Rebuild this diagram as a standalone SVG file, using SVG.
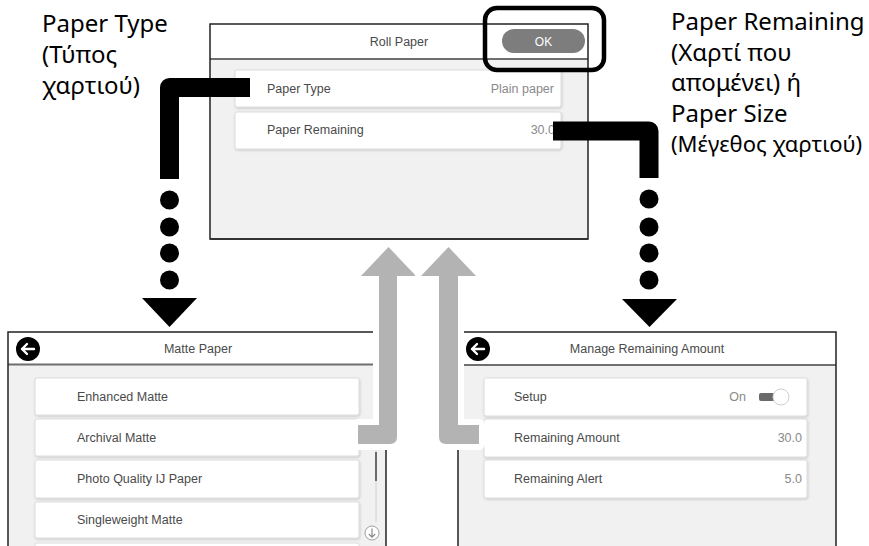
<svg xmlns="http://www.w3.org/2000/svg" width="869" height="546" viewBox="0 0 869 546">
<style>
.lbl{font-family:"Noto Sans","Open Sans",sans-serif;font-size:24px;fill:#000}
.ui{font-family:"Liberation Sans",Arial,sans-serif;font-size:12.5px;fill:#4a4a4a}
.val{font-family:"Liberation Sans",Arial,sans-serif;font-size:12.5px;fill:#8a8a8a;text-anchor:end}
.ttl{font-family:"Liberation Sans",Arial,sans-serif;font-size:12.5px;fill:#4a4a4a;text-anchor:middle}
.hdr{fill:#fff}
.body{fill:#f1f1f1}
.hline{stroke:#6e6e6e;stroke-width:2}
.card{fill:#fff;stroke:#dcdcdc;stroke-width:1}
.frame{fill:none;stroke:#222;stroke-width:1.5}
.blk{fill:none;stroke:#000;stroke-width:19;stroke-linejoin:round}
.dot{fill:#000}
.gray{fill:#b3b3b3;stroke:#fff;stroke-width:12;stroke-linejoin:round;paint-order:stroke}
.back{fill:#000}
.backarrow{fill:none;stroke:#fff;stroke-width:2.4;stroke-linecap:round;stroke-linejoin:round}
</style>
<defs>
<filter id="sh" x="-5%" y="-20%" width="110%" height="150%">
<feDropShadow dx="0.6" dy="1" stdDeviation="0.8" flood-color="#000" flood-opacity="0.18"/>
</filter>
</defs>
<rect width="869" height="546" fill="#fff"/>

<g id="label-paper-type">
<text class="lbl" x="42" y="32">Paper Type</text>
<text class="lbl" x="42" y="63">(Τύπος</text>
<text class="lbl" x="42" y="94">χαρτιού)</text>
</g>

<g id="label-paper-remaining">
<text class="lbl" x="671" y="30">Paper Remaining</text>
<text class="lbl" x="671" y="61">(Χαρτί που</text>
<text class="lbl" x="671" y="91">απομένει) ή</text>
<text class="lbl" x="671" y="122">Paper Size</text>
<text class="lbl" x="671" y="152" font-size="22" style="font-size:22px">(Μέγεθος χαρτιού)</text>
</g>

<g id="screen-roll-paper">
<rect class="hdr" x="210" y="24" width="378" height="35"/>
<rect class="body" x="210" y="59" width="378" height="180"/>
<line class="hline" x1="210" y1="59" x2="588" y2="59"/>
<text class="ttl" x="399" y="46">Roll Paper</text>
<rect x="502" y="29" width="83" height="24" rx="12" fill="#7d7d7d"/>
<text x="543.5" y="45.5" font-family="Liberation Sans,Arial,sans-serif" font-size="12" fill="#fff" text-anchor="middle">OK</text>
<rect class="card" x="235" y="70" width="326" height="37" rx="2" filter="url(#sh)"/>
<text class="ui" x="267" y="93">Paper Type</text>
<text class="val" x="554" y="93">Plain paper</text>
<rect class="card" x="235" y="112" width="326" height="37" rx="2" filter="url(#sh)"/>
<text class="ui" x="267" y="134">Paper Remaining</text>
<text class="val" x="555" y="134">30.0</text>
<rect class="frame" x="210" y="24" width="378" height="215"/>
<line x1="210" y1="239" x2="588" y2="239" stroke="#333" stroke-width="2"/>
<rect id="ok-highlight" x="485" y="8" width="119" height="62" rx="12" fill="none" stroke="#000" stroke-width="4.5"/>
</g>

<g id="screen-matte-paper">
<rect class="hdr" x="8" y="332" width="378" height="32"/>
<rect class="body" x="8" y="364" width="378" height="182"/>
<line class="hline" x1="8" y1="364.5" x2="386" y2="364.5"/>
<circle class="back" cx="28" cy="349" r="12"/>
<path class="backarrow" d="M34 349H22M27 344L22 349L27 354"/>
<text class="ttl" x="198" y="353">Matte Paper</text>
<rect class="card" x="35" y="378" width="324" height="37" rx="2" filter="url(#sh)"/>
<text class="ui" x="77" y="401">Enhanced Matte</text>
<rect class="card" x="35" y="419" width="324" height="37" rx="2" filter="url(#sh)"/>
<text class="ui" x="77" y="442">Archival Matte</text>
<rect class="card" x="35" y="460" width="324" height="38" rx="2" filter="url(#sh)"/>
<text class="ui" x="77" y="483">Photo Quality IJ Paper</text>
<rect class="card" x="35" y="502" width="324" height="36" rx="2" filter="url(#sh)"/>
<text class="ui" x="77" y="524">Singleweight Matte</text>
<rect class="card" x="35" y="543" width="324" height="10" rx="2"/>
<line x1="376" y1="450" x2="376" y2="522" stroke="#d0d0d0" stroke-width="1"/>
<line x1="376" y1="452" x2="376" y2="481" stroke="#6a6a6a" stroke-width="2"/>
<circle cx="372" cy="533" r="7" fill="#fff" stroke="#a0a0a0" stroke-width="1"/>
<path d="M372 528.5V537M368.8 534L372 537.2L375.2 534" fill="none" stroke="#888" stroke-width="1.2"/>
<path class="frame" d="M8 546V332H386V546"/>
</g>

<g id="screen-manage-remaining">
<rect class="hdr" x="458" y="332" width="378" height="33"/>
<rect class="body" x="458" y="365" width="378" height="181"/>
<line class="hline" x1="458" y1="365" x2="836" y2="365"/>
<circle class="back" cx="478" cy="349" r="12"/>
<path class="backarrow" d="M484 349H472M477 344L472 349L477 354"/>
<text class="ttl" x="647" y="353">Manage Remaining Amount</text>
<rect class="card" x="484" y="378" width="323" height="38" rx="2" filter="url(#sh)"/>
<text class="ui" x="514" y="401">Setup</text>
<text class="val" x="746" y="401">On</text>
<rect x="759" y="393" width="22" height="8" rx="2" fill="#6a6a6a"/>
<circle cx="781" cy="397" r="8" fill="#fff" stroke="#d0d0d0" stroke-width="1"/>
<rect class="card" x="484" y="419" width="323" height="38" rx="2" filter="url(#sh)"/>
<text class="ui" x="514" y="442">Remaining Amount</text>
<text class="val" x="802" y="442">30.0</text>
<rect class="card" x="484" y="460" width="323" height="38" rx="2" filter="url(#sh)"/>
<text class="ui" x="514" y="483">Remaining Alert</text>
<text class="val" x="802" y="483">5.0</text>
<path class="frame" d="M458 546V332H836V546"/>
</g>

<g id="connectors">
<path class="gray" d="M358 425H379V276H361L388.5 247L416 276H397V437Q397 444 390 444H358Z"/>
<path class="gray" d="M479 425H458V276H476L448.5 247L421 276H439V437Q439 444 446 444H479Z"/>
<path class="blk" d="M250 87.5H169.5V179"/>
<circle class="dot" cx="169.5" cy="200" r="9.5"/>
<circle class="dot" cx="169.5" cy="227" r="9.5"/>
<circle class="dot" cx="169.5" cy="253" r="9.5"/>
<circle class="dot" cx="169.5" cy="280" r="9.5"/>
<path d="M142 298H197L169.5 327Z" fill="#000"/>
<path class="blk" d="M553 131H649V178"/>
<circle class="dot" cx="649" cy="199" r="9.5"/>
<circle class="dot" cx="649" cy="227" r="9.5"/>
<circle class="dot" cx="649" cy="253" r="9.5"/>
<circle class="dot" cx="649" cy="280" r="9.5"/>
<path d="M622 299H677L649.5 327Z" fill="#000"/>
</g>
</svg>
